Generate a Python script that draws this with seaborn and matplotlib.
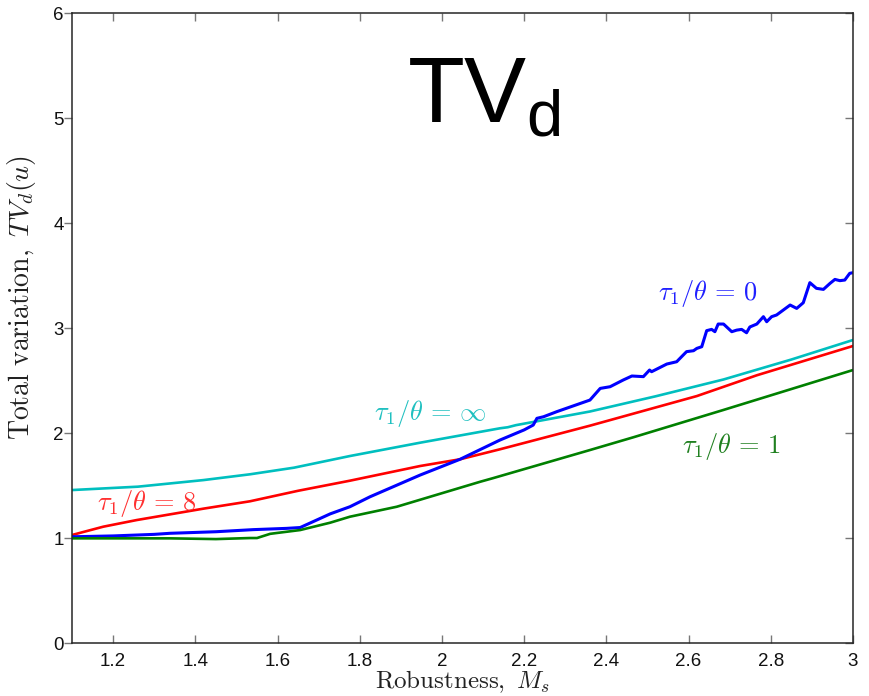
import numpy as np
import matplotlib
matplotlib.use('Agg')
import matplotlib.pyplot as plt
import pandas as pd
import seaborn as sns

# curves (x = Ms, y = TV_d(u))
inf_x = [1.10, 1.26, 1.42, 1.533, 1.64, 1.776, 1.947, 2.141, 2.16, 2.18, 2.36, 2.52, 2.685, 2.85, 3.00]
inf_y = [1.457, 1.489, 1.552, 1.607, 1.67, 1.781, 1.908, 2.045, 2.055, 2.075, 2.205, 2.35, 2.51, 2.70, 2.886]

eight_x = [1.10, 1.176, 1.257, 1.42, 1.533, 1.65, 1.776, 1.947, 2.044, 2.141, 2.214, 2.36, 2.62, 2.766, 3.00]
eight_y = [1.029, 1.108, 1.171, 1.28, 1.35, 1.45, 1.546, 1.686, 1.75, 1.845, 1.92, 2.07, 2.352, 2.55, 2.829]

zero_x = [1.10, 1.20, 1.30, 1.338, 1.45, 1.541, 1.622, 1.655, 1.70, 1.728, 1.776, 1.825, 1.947, 2.044,
          2.141, 2.20, 2.222, 2.231, 2.247, 2.279, 2.36, 2.385, 2.409, 2.441, 2.462, 2.49, 2.505, 2.51,
          2.547, 2.571, 2.595, 2.612, 2.62, 2.632, 2.644, 2.656, 2.664, 2.672, 2.685, 2.705, 2.717,
          2.729, 2.741, 2.749, 2.766, 2.782, 2.79, 2.802, 2.814, 2.847, 2.863, 2.879, 2.895, 2.911,
          2.928, 2.944, 2.956, 2.968, 2.98, 2.992, 3.00]
zero_y = [1.012, 1.02, 1.035, 1.045, 1.06, 1.08, 1.092, 1.10, 1.18, 1.23, 1.298, 1.393, 1.60, 1.75,
          1.933, 2.03, 2.076, 2.14, 2.155, 2.203, 2.314, 2.425, 2.441, 2.505, 2.543, 2.537, 2.60, 2.584,
          2.657, 2.679, 2.775, 2.784, 2.806, 2.822, 2.975, 2.987, 2.965, 3.038, 3.038, 2.965, 2.98,
          2.987, 2.955, 3.01, 3.038, 3.108, 3.06, 3.108, 3.124, 3.219, 3.187, 3.241, 3.432, 3.378,
          3.368, 3.425, 3.463, 3.451, 3.457, 3.521, 3.527]

one_x = [1.10, 1.338, 1.45, 1.533, 1.55, 1.582, 1.655, 1.728, 1.776, 1.89, 2.093, 2.124, 2.36, 2.466, 2.685, 3.00]
one_y = [0.997, 0.997, 0.99, 1.0, 1.0, 1.04, 1.076, 1.146, 1.203, 1.298, 1.536, 1.57, 1.838, 1.96, 2.22, 2.60]

series = ['inf', 'eight', 'zero', 'one']
colors = {'inf': '#00bfbf', 'eight': '#ff0000', 'zero': '#0000ff', 'one': '#008000'}

xticks = [1.2, 1.4, 1.6, 1.8, 2, 2.2, 2.4, 2.6, 2.8, 3]
xticklabels = ['1.2', '1.4', '1.6', '1.8', '2', '2.2', '2.4', '2.6', '2.8', '3']
yticks = [0, 1, 2, 3, 4, 5, 6]

df = pd.concat([
    pd.DataFrame({'Ms': inf_x, 'TV': inf_y, 'case': 'inf'}),
    pd.DataFrame({'Ms': eight_x, 'TV': eight_y, 'case': 'eight'}),
    pd.DataFrame({'Ms': zero_x, 'TV': zero_y, 'case': 'zero'}),
    pd.DataFrame({'Ms': one_x, 'TV': one_y, 'case': 'one'}),
], ignore_index=True)

sns.set_theme(style='white')
plt.rcParams['font.family'] = ['Liberation Sans', 'DejaVu Sans']
plt.rcParams['mathtext.fontset'] = 'cm'
plt.rcParams['mathtext.rm'] = 'Liberation Sans'

fig = plt.figure(figsize=(8.69, 6.96), dpi=100)
ax = fig.add_axes([0.0829, 0.0761, 0.8987, 0.9052])

for s in series:
    sub = df[df['case'] == s]
    lw = 2.2 if s == 'zero' else 1.9
    sns.lineplot(data=sub, x='Ms', y='TV', color=colors[s], lw=lw,
                 estimator=None, sort=False, ax=ax, legend=False)

ax.set_xlim(1.1, 3)
ax.set_ylim(0, 6)
ax.set_xticks(xticks)
ax.set_xticklabels(xticklabels)
ax.set_yticks(yticks)

for sp in ax.spines.values():
    sp.set_color('#262626')
    sp.set_linewidth(1.1)

ax.tick_params(axis='x', direction='in', top=True, bottom=True, length=6,
               width=1, color='#777777', labelsize=13.5, pad=7, labelcolor='#111111')
ax.tick_params(axis='y', direction='out', left=True, length=6, width=1,
               color='#777777', labelsize=13.5, pad=0, labelcolor='#111111')
ry = ax.secondary_yaxis('right')
ry.set_yticks(yticks)
ry.tick_params(direction='in', length=6, width=1, color='#777777', labelright=False)
ry.spines['right'].set_visible(False)

ax.set_xlabel(r'$\mathrm{Robustness,}\ M_s$', fontsize=18, color='#222222',
              math_fontfamily='cm', labelpad=-1)
ax.set_ylabel(r'$\mathrm{Total\ variation,}\ TV_d(u)$', fontsize=20, color='#222222',
              math_fontfamily='cm')
ax.yaxis.set_label_coords(-0.0435, 0.549)

lab = dict(fontsize=19, ha='center', va='center', math_fontfamily='cm')
ax.text(2.647, 3.333, r'$\tau_1/\theta\,=\,0$', color='#2020ff', **lab)
ax.text(2.703, 1.867, r'$\tau_1/\theta\,=\,1$', color='#208020', **lab)
ax.text(1.971, 2.19, r'$\tau_1/\theta\,=\,\infty$', color='#20c0c0', **lab)
ax.text(1.282, 1.333, r'$\tau_1/\theta\,=\,8$', color='#ff3030', **lab)

ax.text(2.102, 4.962, r'$\mathrm{TV_d}$', fontsize=67, ha='center', va='baseline',
        color='black', math_fontfamily='custom')

fig.savefig('out.png', dpi=100)
